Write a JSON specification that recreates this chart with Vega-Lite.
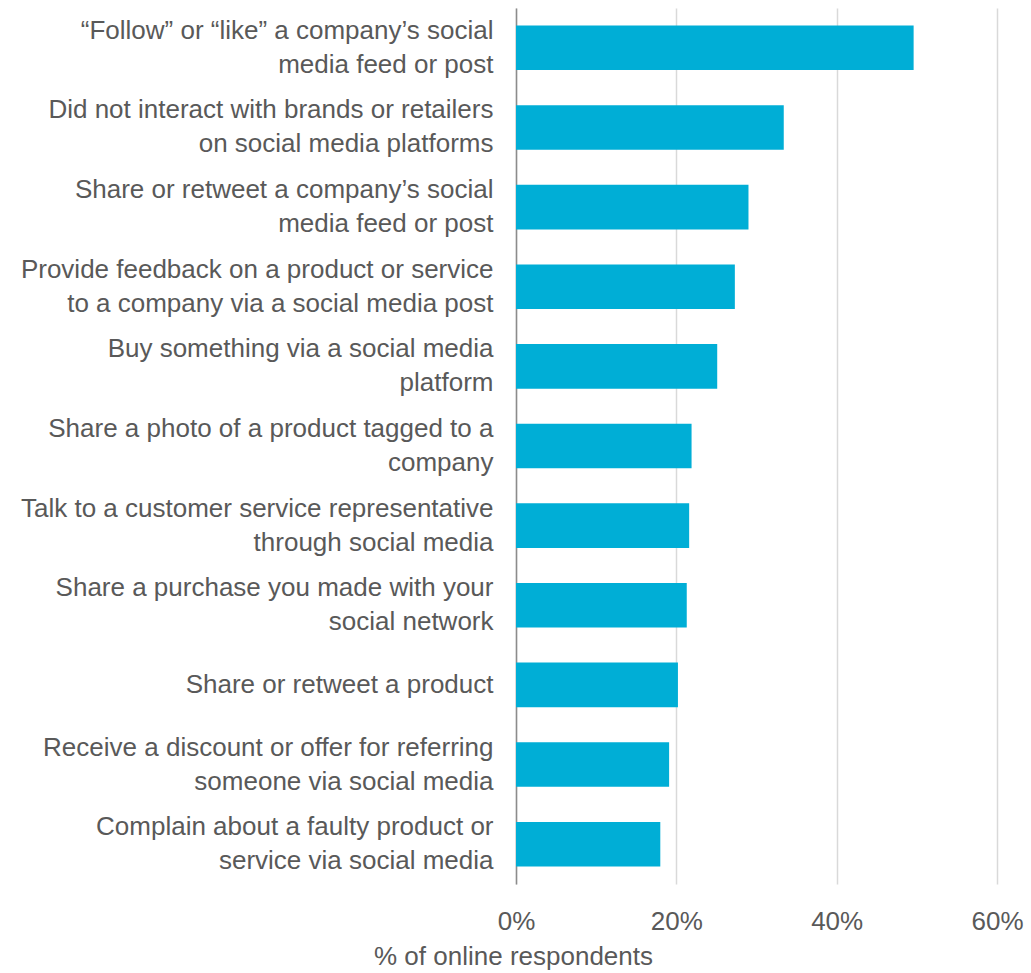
{
  "$schema": "https://vega.github.io/schema/vega-lite/v6.json",
  "autosize": {"type": "none"},
  "padding": {"left": 516, "top": 8, "right": 34, "bottom": 89},
  "width": 481,
  "height": 876,
  "background": "white",
  "data": {
    "values": [
      {"label": "“Follow” or “like” a company’s social|media feed or post", "value": 0.496},
      {"label": "Did not interact with brands or retailers|on social media platforms", "value": 0.334},
      {"label": "Share or retweet a company’s social|media feed or post", "value": 0.29},
      {"label": "Provide feedback on a product or service|to a company via a social media post", "value": 0.273},
      {"label": "Buy something via a social media|platform", "value": 0.251},
      {"label": "Share a photo of a product tagged to a|company", "value": 0.219},
      {"label": "Talk to a customer service representative|through social media", "value": 0.216},
      {"label": "Share a purchase you made with your|social network", "value": 0.213},
      {"label": "Share or retweet a product", "value": 0.202},
      {"label": "Receive a discount or offer for referring|someone via social media", "value": 0.191},
      {"label": "Complain about a faulty product or|service via social media", "value": 0.18}
    ]
  },
  "mark": {"type": "bar", "color": "#00AED6"},
  "encoding": {
    "y": {
      "field": "label",
      "type": "nominal",
      "sort": null,
      "scale": {"paddingInner": 0.44, "paddingOuter": 0.22},
      "axis": {
        "title": null,
        "labelExpr": "split(datum.label, '|')",
        "labelLimit": 0,
        "labelFont": "Liberation Sans",
        "labelFontSize": 26,
        "labelLineHeight": 34,
        "labelColor": "#595959",
        "labelPadding": 23,
        "labelOffset": {"condition": {"test": "indexof(datum.value, '|') >= 0", "value": -17}, "value": 0},
        "ticks": false,
        "domainColor": "#8c8c8c",
        "domainWidth": 1.5,
        "grid": false
      }
    },
    "x": {
      "field": "value",
      "type": "quantitative",
      "scale": {"domain": [0, 0.6], "nice": false},
      "axis": {
        "title": "% of online respondents",
        "values": [0, 0.2, 0.4, 0.6],
        "format": ".0%",
        "labelFont": "Liberation Sans",
        "labelFontSize": 26,
        "labelColor": "#595959",
        "labelPadding": 24,
        "labelFlush": false,
        "ticks": false,
        "domain": false,
        "grid": true,
        "gridColor": "#d9d9d9",
        "gridWidth": 1.5,
        "titleFont": "Liberation Sans",
        "titleFontSize": 26,
        "titleFontWeight": "normal",
        "titleColor": "#595959",
        "titleAnchor": "start",
        "titleAlign": "center",
        "titleX": -3,
        "titlePadding": 9
      }
    }
  },
  "config": {"view": {"stroke": null}}
}
